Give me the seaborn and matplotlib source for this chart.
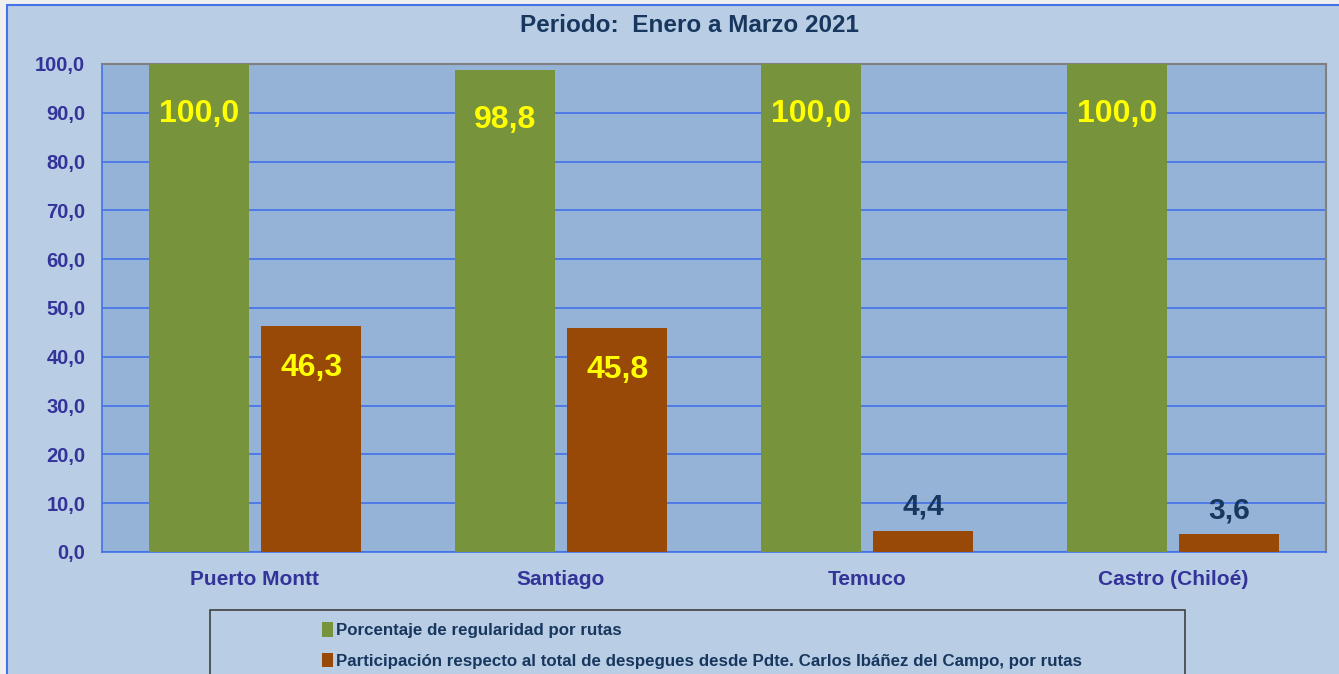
import pandas as pd
import matplotlib.pyplot as plt
import seaborn as sns
from matplotlib.patches import Rectangle
from matplotlib.ticker import MultipleLocator, FixedLocator

# datos del gráfico
rutas = ["Puerto Montt", "Santiago", "Temuco", "Castro (Chiloé)"]
regularidad = [100.0, 98.8, 100.0, 100.0]
participacion = [46.3, 45.8, 4.4, 3.6]
serie_reg = "Porcentaje de regularidad por rutas"
serie_par = "Participación respecto al total de despegues desde Pdte. Carlos Ibáñez del Campo, por rutas"

df = pd.DataFrame({
    "Ruta": rutas * 2,
    "Valor": regularidad + participacion,
    "Serie": [serie_reg] * len(rutas) + [serie_par] * len(rutas),
})

verde = "#77933C"
naranjo = "#984807"
azul_txt = "#333399"
navy = "#17375E"
linea = "#4472E8"

sns.set_style("white")
plt.rcParams["font.family"] = "Liberation Sans"
plt.rcParams["font.weight"] = "bold"

fig = plt.figure(figsize=(13.39, 6.74), dpi=100, facecolor="#EFEFEF")
# área del gráfico (fondo celeste con borde azul)
fig.patches.append(Rectangle((7 / 1339, -0.05), 1.0, 1 - 5 / 674 + 0.05,
                             transform=fig.transFigure, facecolor="#B9CDE5",
                             edgecolor=linea, linewidth=1.5, zorder=-2))

ax = fig.add_axes([102 / 1339, 1 - 552 / 674, 1224 / 1339, 488 / 674])
ax.set_facecolor("#95B3D7")

sns.barplot(data=df, x="Ruta", y="Valor", hue="Serie",
            palette=[verde, naranjo], width=0.734, gap=0.11,
            saturation=1, linewidth=0, ax=ax, legend=False, zorder=3)

ax.set_ylim(0, 100)
ax.set_xlim(-0.5, len(rutas) - 0.5)
ax.yaxis.set_major_locator(MultipleLocator(10))
ax.set_yticklabels([f"{v:.1f}".replace(".", ",") for v in ax.get_yticks()])
ax.grid(axis="y", color=linea, linewidth=1.2, zorder=1)
ax.set_axisbelow(True)

for s in ["top", "right"]:
    ax.spines[s].set_color("#808080")
    ax.spines[s].set_linewidth(1.5)
for s in ["left", "bottom"]:
    ax.spines[s].set_color(linea)
    ax.spines[s].set_linewidth(1.2)

ax.tick_params(axis="y", colors=linea, labelcolor=azul_txt, length=6, width=1.2,
               labelsize=14.5, pad=6)
ax.tick_params(axis="x", length=0, labelcolor=azul_txt, labelsize=15, pad=13)
ax.xaxis.set_minor_locator(FixedLocator([i - 0.5 for i in range(len(rutas) + 1)]))
ax.tick_params(axis="x", which="minor", length=6, width=1.2, colors=linea)
for lbl in ax.get_yticklabels() + ax.get_xticklabels():
    lbl.set_fontweight("bold")
ax.set_xlabel("")
ax.set_ylabel("")

# etiquetas de datos
for cont, off in zip(ax.containers, [-36, -30]):
    for bar in cont:
        h = bar.get_height()
        x = bar.get_x() + bar.get_width() / 2
        txt = f"{h:.1f}".replace(".", ",")
        if h > 20:
            ax.annotate(txt, (x, h), xytext=(0, off), textcoords="offset points",
                        ha="center", va="center", color="#FFFF00",
                        fontsize=23, fontweight="bold", zorder=5)
        else:
            ax.annotate(txt, (x, h), xytext=(0, 17), textcoords="offset points",
                        ha="center", va="center", color=navy,
                        fontsize=21.5, fontweight="bold", zorder=5)

fig.text(0.515, 1 - 25 / 674, "Periodo:  Enero a Marzo 2021", ha="center", va="center",
         fontsize=17.5, fontweight="bold", color=navy)

# leyenda
fig.patches.append(Rectangle((210 / 1339, -0.05), 975 / 1339, 0.05 + 1 - 610 / 674,
                             transform=fig.transFigure, facecolor="#B9CDE5",
                             edgecolor="#404040", linewidth=1.2, zorder=-1))
handles = [Rectangle((0, 0), 1, 1, facecolor=verde, edgecolor="none"),
           Rectangle((0, 0), 1, 1, facecolor=naranjo, edgecolor="none")]
leg = fig.legend(handles, [serie_reg, serie_par], loc="upper left",
                 bbox_to_anchor=(314 / 1339, 1 - 614 / 674), frameon=False,
                 handlelength=0.65, handleheight=0.9, handletextpad=0.15,
                 labelspacing=0.85, borderpad=0,
                 prop={"family": "Liberation Sans", "weight": "bold", "size": 12.2})
for t in leg.get_texts():
    t.set_color(navy)

plt.savefig("out.png", dpi=100, facecolor=fig.get_facecolor())
